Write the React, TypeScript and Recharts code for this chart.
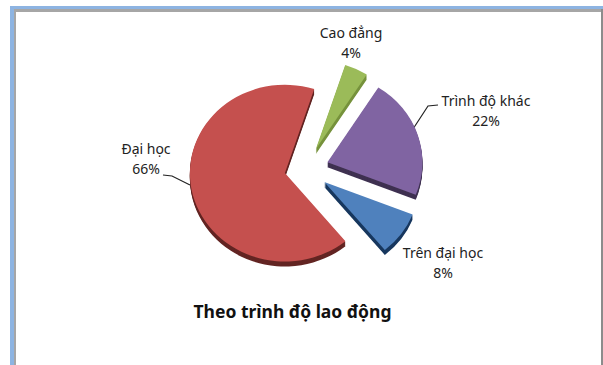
import React from "react";
import { PieChart, Pie, Cell, Sector } from "recharts";

const categories = ["Cao đẳng", "Trình độ khác", "Trên đại học", "Đại học"];
const shares = [4, 22, 8, 66];
const faceColors = ["#9BBB59", "#8064A2", "#4F81BD", "#C5504E"];
const sideColors = ["#76923C", "#3F3151", "#17375E", "#632523"];

const rows = categories.map((name, i) => ({ name, value: shares[i] }));

const WIDTH = 603;
const HEIGHT = 365;
const CX = 306.5;
const CY = 169;
const RADIUS = 95;
const SQUASH = 0.93;
const DEPTH = 5;
const EXPLODE = 22;
const FONT = '"Noto Sans", "Open Sans", sans-serif';

// Anchor of each two-line label, and an optional leader line towards its slice.
const labelLayout = [
  { x: 351, y: 38, leader: null },
  { x: 486, y: 106, leader: "M413 129 L428 106 L438 105" },
  { x: 443, y: 258, leader: null },
  { x: 146, y: 154, leader: "M190 185 L172 176 L163 175" },
];

function Slice(props: any) {
  const { index, midAngle, fill, cx, cy, innerRadius, outerRadius, startAngle, endAngle } = props;
  const rad = (midAngle * Math.PI) / 180;
  const dx = EXPLODE * Math.cos(rad);
  const dy = -EXPLODE * Math.sin(rad);
  const sector = { cx, cy, innerRadius, outerRadius, startAngle, endAngle };
  const steps = Array.from({ length: DEPTH }, (_, i) => DEPTH - i);
  const place = (y: number) =>
    `translate(${cx + dx} ${cy + dy + y}) scale(1 ${SQUASH}) translate(${-cx} ${-cy})`;
  return (
    <g>
      {steps.map((y) => (
        <g key={y} transform={place(y)}>
          <Sector {...sector} fill={sideColors[index]} />
        </g>
      ))}
      <g transform={place(0)}>
        <Sector {...sector} fill={fill} />
      </g>
    </g>
  );
}

export default function App() {
  return (
    <div style={{ position: "absolute", left: 0, top: 0, width: WIDTH, height: HEIGHT, background: "#fff", overflow: "hidden" }}>
      {/* Window frame around the chart: open at the bottom */}
      <div style={{ position: "absolute", left: 10, top: 6, right: 0, height: 3, background: "#8DB4E2" }} />
      <div style={{ position: "absolute", left: 10, top: 6, width: 4, bottom: 0, background: "#8DB4E2" }} />
      <div style={{ position: "absolute", left: 14, top: 9, right: 0, height: 3, background: "#A6A6A6" }} />
      <div style={{ position: "absolute", left: 14, top: 9, width: 2, bottom: 0, background: "#A6A6A6" }} />
      <div style={{ position: "absolute", right: 0, top: 9, width: 2, bottom: 0, background: "#8C8C8C" }} />
      <PieChart width={WIDTH} height={HEIGHT} style={{ position: "absolute", left: 0, top: 0 }} margin={{ top: 0, right: 0, bottom: 0, left: 0 }}>
        <Pie
          data={rows}
          dataKey="value"
          nameKey="name"
          cx={CX}
          cy={CY}
          innerRadius={0}
          outerRadius={RADIUS}
          startAngle={72}
          endAngle={-288}
          stroke="none"
          isAnimationActive={false}
          labelLine={false}
          label={false}
          shape={Slice}
        >
          {rows.map((row, i) => (
            <Cell key={row.name} fill={faceColors[i]} />
          ))}
        </Pie>
        {labelLayout.map(
          (l, i) => l.leader && <path key={categories[i]} d={l.leader} fill="none" stroke="#222" strokeWidth={1.2} />
        )}
        {labelLayout.map((l, i) => (
          <text key={categories[i]} textAnchor="middle" fontFamily={FONT} fontSize={14} fill="#222">
            <tspan x={l.x} y={l.y}>{categories[i]}</tspan>
            <tspan x={l.x} dy={20}>{shares[i]}%</tspan>
          </text>
        ))}
        <text x={292.5} y={318} textAnchor="middle" fontFamily={FONT} fontSize={17.5} fontWeight={700} fill="#111">
          Theo trình độ lao động
        </text>
      </PieChart>
    </div>
  );
}
